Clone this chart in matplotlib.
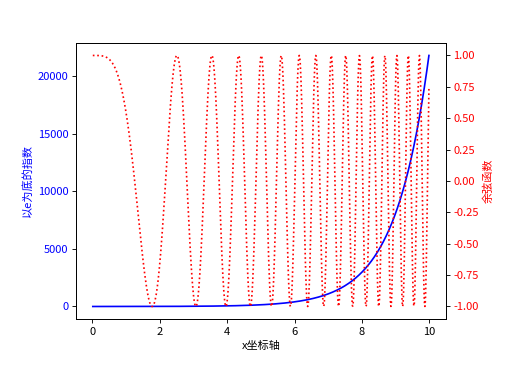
import numpy as np
import matplotlib
matplotlib.use("Agg")
import matplotlib.pyplot as plt

plt.rcParams['font.family'] = ['Noto Sans CJK SC', 'DejaVu Sans']
plt.rcParams['axes.unicode_minus'] = False

# sample grid and the two plotted functions
x = np.arange(0.01, 10.0, 0.01)
y_exp = np.exp(x)
y_cos = np.cos(x ** 2)

X_LABEL = "x坐标轴"
LEFT_LABEL = "以e为底的指数"
RIGHT_LABEL = "余弦函数"

fig, ax1 = plt.subplots(figsize=(6.375, 4.7875), dpi=80)
fig.subplots_adjust(left=0.149, right=0.874, top=0.888, bottom=0.167)

ax1.plot(x, y_exp, color="b")
ax1.set_xlabel(X_LABEL)
ax1.set_ylabel(LEFT_LABEL, color="b")
ax1.tick_params(axis="y", labelcolor="b")

ax2 = ax1.twinx()
ax2.plot(x, y_cos, color="r", linestyle=":")
ax2.set_ylabel(RIGHT_LABEL, color="r")
ax2.tick_params(axis="y", labelcolor="r")

fig.savefig("out.png", dpi=80)
